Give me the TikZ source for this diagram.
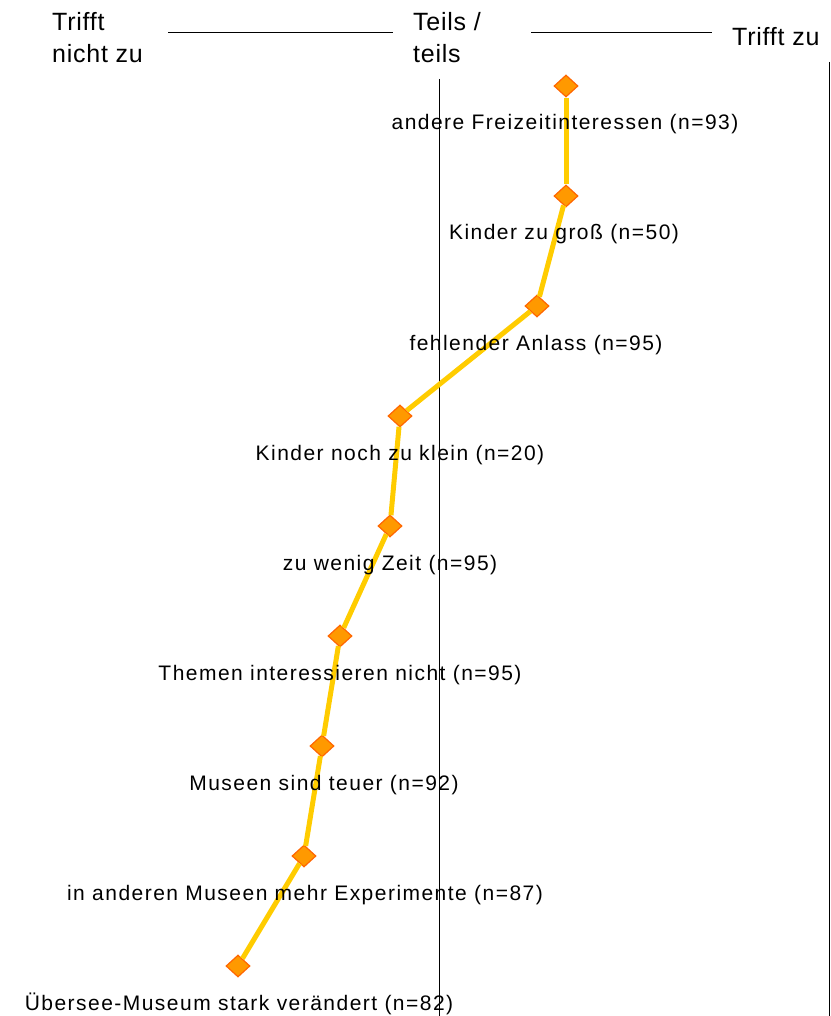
\documentclass[tikz,border=0pt]{standalone}
\usepackage{fontspec}
\setmainfont{Liberation Sans}
\newfontfamily\lblfont[LetterSpace=7]{Liberation Sans}
\newfontfamily\headfont[LetterSpace=3]{Liberation Sans}
\usetikzlibrary{shapes,arrows}
\definecolor{gold}{RGB}{255,204,0}
\definecolor{orng}{RGB}{255,153,0}
\definecolor{orngdark}{RGB}{255,102,0}
\tikzstyle{rate} = [draw=orngdark, fill=orng, diamond, inner sep=0pt, minimum width=24pt, minimum height=22pt, line width=1.2pt]
\tikzstyle{invis} = [draw=none, inner sep=0pt]
\tikzstyle{lbl} = [invis, anchor=base, font=\lblfont\fontsize{21}{25}\selectfont]
\tikzstyle{head} = [invis, anchor=base west, align=left, font=\headfont\fontsize{25}{32}\selectfont]
\tikzstyle{axis} = [draw, line width=0.9pt]

\begin{document}
\begin{tikzpicture}[x=1pt,y=-1pt]
\useasboundingbox (0,0) rectangle (830,1016);

% scale heading
\node[head] (low) at (52,63) {Trifft\\nicht zu};
\node[head] (mid) at (413,63) {Teils /\\teils};
\node[head] (high) at (732,46) {Trifft zu};
\coordinate (h1) at (168,32);
\coordinate (h2) at (393,32);
\coordinate (h3) at (531,32);
\coordinate (h4) at (712,32);
\path
(h1) edge [axis] node {} (h2)
(h3) edge [axis] node {} (h4);

% axis lines
\coordinate (v1) at (439,79);
\coordinate (v2) at (439,1016);
\coordinate (v3) at (829,62);
\coordinate (v4) at (829,1016);
\path
(v1) edge [axis] node {} (v2)
(v3) edge [axis] node {} (v4);

% ratings
\node[rate] (m1) at (566,86) {};
\node[rate] (m2) at (566,196) {};
\node[rate] (m3) at (537,306) {};
\node[rate] (m4) at (400,416) {};
\node[rate] (m5) at (390,526) {};
\node[rate] (m6) at (340,636) {};
\node[rate] (m7) at (322,746) {};
\node[rate] (m8) at (304,856) {};
\node[rate] (m9) at (238,966) {};

\path[gold, line width=5pt]
(m1) edge [-] node {} (m2)
(m2) edge [-] node {} (m3)
(m3) edge [-] node {} (m4)
(m4) edge [-] node {} (m5)
(m5) edge [-] node {} (m6)
(m6) edge [-] node {} (m7)
(m7) edge [-] node {} (m8)
(m8) edge [-] node {} (m9);

\node[lbl] (t1) at (565,130) {andere Freizeitinteressen (n=93)};
\node[lbl] (t2) at (564,240) {Kinder zu groß (n=50)};
\node[lbl] (t3) at (536,350) {fehlender Anlass (n=95)};
\node[lbl] (t4) at (400,460) {Kinder noch zu klein (n=20)};
\node[lbl] (t5) at (390,570) {zu wenig Zeit (n=95)};
\node[lbl] (t6) at (340,680) {Themen interessieren nicht (n=95)};
\node[lbl] (t7) at (324,790) {Museen sind teuer (n=92)};
\node[lbl] (t8) at (305,900) {in anderen Museen mehr Experimente (n=87)};
\node[lbl] (t9) at (239,1010) {Übersee-Museum stark verändert (n=82)};

\end{tikzpicture}
\end{document}
